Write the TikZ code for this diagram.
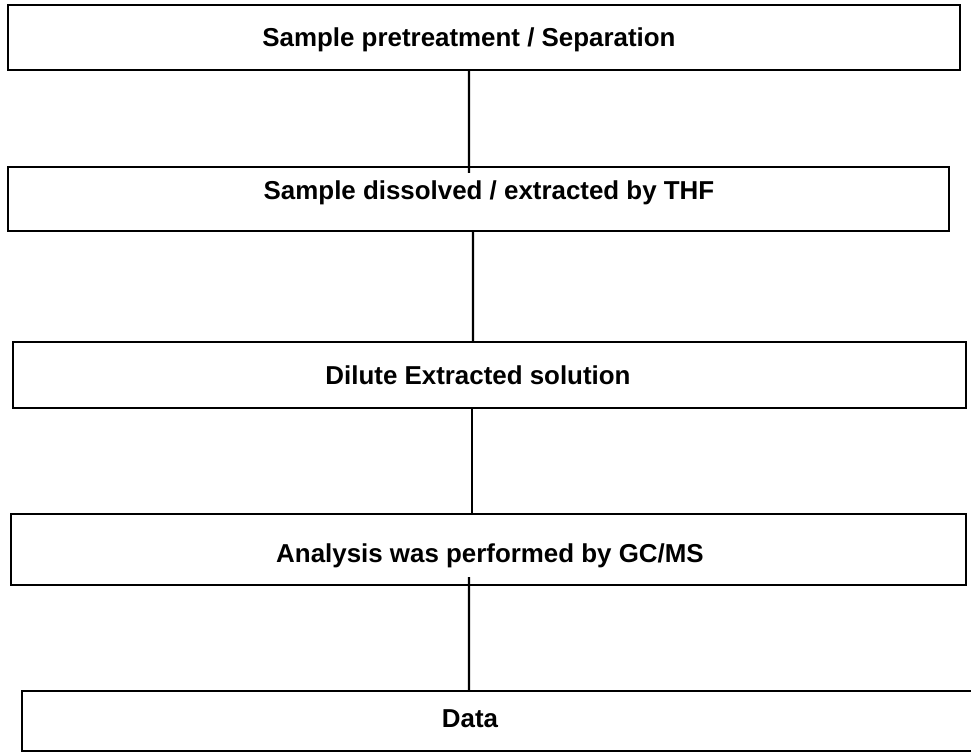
\documentclass[tikz,border=0pt]{standalone}
\usepackage{fontspec}
\setmainfont{Liberation Sans}
\begin{document}
\begin{tikzpicture}[x=1bp,y=-1bp,
  stage/.style={draw=black,line width=2.4bp,rectangle,inner sep=0pt,fill=none},
  lbl/.style={font=\fontsize{26}{30}\selectfont\bfseries,inner sep=0pt,anchor=center},
  conn/.style={draw=black,line width=2.4bp}]
\useasboundingbox[fill=white] (0,0) rectangle (971,752);
\node[stage,minimum width=952bp,minimum height=65bp] (b1) at (484,37.5) {};
\node[stage,minimum width=941bp,minimum height=64bp] (b2) at (478.5,199) {};
\node[stage,minimum width=953bp,minimum height=66bp] (b3) at (489.5,375) {};
\node[stage,minimum width=955bp,minimum height=71bp] (b4) at (488.5,549.5) {};
\node[stage,minimum width=963bp,minimum height=60bp] (b5) at (503.5,721) {};
\node[lbl] (t1) at (469,40) {Sample pretreatment / Separation};
\node[lbl] (t2) at (489,193) {Sample dissolved / extracted by THF};
\node[lbl] (t3) at (478,375) {Dilute Extracted solution};
\node[lbl] (t4) at (490,556) {Analysis was performed by GC/MS};
\node[lbl] (t5) at (470,719) {Data};
\draw[conn] ([xshift=-15bp]b1.south) -- ([xshift=-9.5bp,yshift=-7bp]b2.north);
\draw[conn] ([xshift=-5.5bp]b2.south) -- ([xshift=-16.5bp]b3.north);
\draw[conn] ([xshift=-17.5bp]b3.south) -- ([xshift=-16.5bp]b4.north);
\draw[conn] ([xshift=-19.5bp,yshift=9bp]b4.south) -- ([xshift=-34.5bp]b5.north);
\end{tikzpicture}
\end{document}
